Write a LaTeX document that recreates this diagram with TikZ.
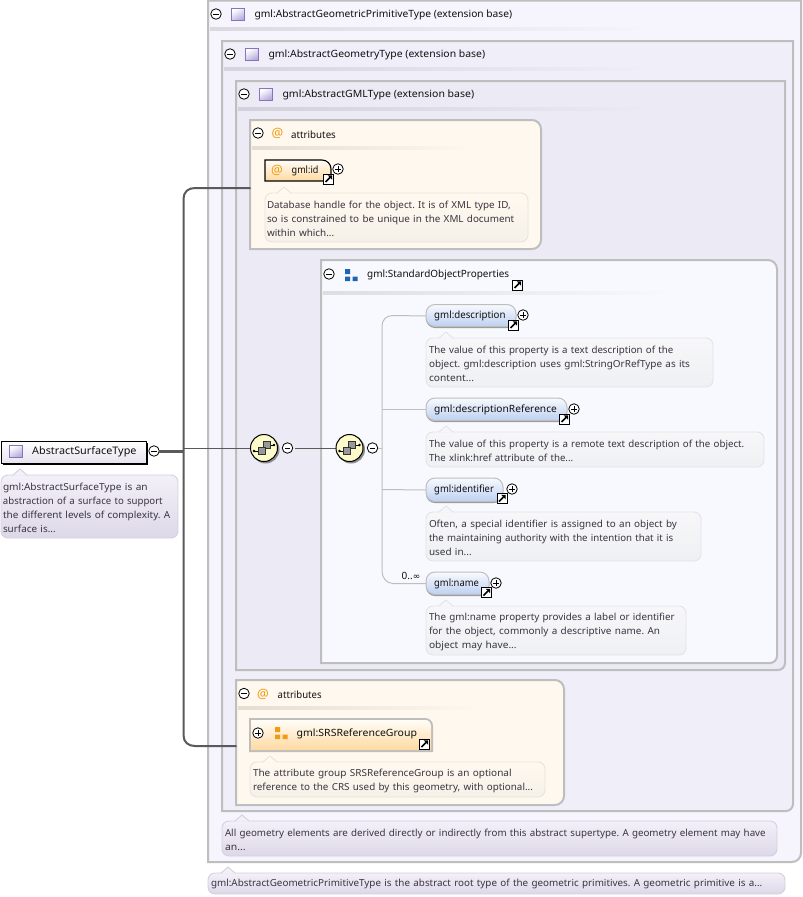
\documentclass[tikz,border=0pt]{standalone}
\usepackage{fontspec}
\usepackage{graphicx}
\setmainfont{Noto Sans}
\newfontfamily\symfont{DejaVu Sans}
\usetikzlibrary{shapes.geometric}
\frenchspacing
\definecolor{pborder}{HTML}{BEBEBE}
\definecolor{pA}{HTML}{F6F4FC}
\definecolor{pB}{HTML}{F0EEF8}
\definecolor{pC}{HTML}{ECEAF5}
\definecolor{pCream}{HTML}{FFF8EE}
\definecolor{pStd}{HTML}{F8F9FE}
\definecolor{conn}{HTML}{5A5A5A}
\definecolor{txt}{HTML}{101010}
\definecolor{doctxt}{HTML}{3A3440}
\definecolor{typeedge}{HTML}{8874BE}
\definecolor{typefill}{HTML}{B5A8DA}
\definecolor{atcol}{HTML}{F29A10}
\definecolor{compfill}{HTML}{FEFBCB}
\definecolor{elemtop}{HTML}{F8FAFE}
\definecolor{elembot}{HTML}{BDD0F1}
\definecolor{orangetop}{HTML}{FFFDF8}
\definecolor{orangebot}{HTML}{FFD9A0}
\definecolor{blueicon}{HTML}{1E64B4}
\definecolor{orangeicon}{HTML}{F29A10}
\definecolor{lavT}{HTML}{F3F0F8}
\definecolor{lavB}{HTML}{DDD8E8}
\definecolor{lavE}{HTML}{D5D0E0}
\definecolor{greyT}{HTML}{F7F7F9}
\definecolor{greyB}{HTML}{EFF0F3}
\definecolor{greyE}{HTML}{E3E4E8}
\definecolor{creamT}{HTML}{FFF9F0}
\definecolor{creamB}{HTML}{F6F1E8}
\definecolor{creamE}{HTML}{E9E4DA}
\tikzset{
  x=1pt,y=-1pt,
  panelbox/.style={draw=pborder,line width=2pt},
  blank/.style={inner sep=0pt,outer sep=0pt,anchor=north west},
  title/.style={anchor=west,inner sep=0pt,yshift=-1pt,text=txt,font=\fontsize{10}{12}\selectfont},
  expander/.style={circle,draw=black,fill=white,line width=.8pt,minimum size=10.5pt,inner sep=0pt,outer sep=0pt},
  shortcut/.style={rectangle,draw=black,fill=white,line width=1pt,minimum size=10pt,inner sep=0pt,outer sep=0pt},
  typeicon/.style={rectangle,draw=typeedge,line width=1.2pt,minimum size=12.5pt,inner sep=0pt,top color=white,bottom color=typefill,shading angle=30},
  atsign/.style={anchor=center,inner sep=0pt,text=atcol,font=\fontsize{13}{13}\selectfont},
  compositor/.style={circle,draw=black,fill=compfill,line width=1pt,minimum size=27pt,inner sep=0pt,outer sep=0pt},
  docbase/.style={rectangle,rounded corners=7pt,line width=.9pt,inner xsep=3pt,inner ysep=0pt,outer sep=0pt,anchor=north west,align=left,text=doctxt,
     font=\fontsize{9.7}{14}\selectfont},
  elem/.style={rectangle,rounded corners=9pt,draw=pborder,line width=1pt,top color=elemtop,bottom color=elembot,anchor=north west,inner sep=0pt,outer sep=0pt},
  connmain/.style={draw=conn,line width=2pt,line cap=round},
  connthin/.style={draw=conn,line width=1.9pt},
  conntree/.style={draw=pborder,line width=1pt},
}
% name x0 y0 x1 y1 rNE rSE fill
\newcommand\panelshape[8]{%
  \filldraw[panelbox,fill=#8] (#2,#3) -- ({#4-#6},#3) .. controls ({#4-.45*#6},#3) and (#4,{#3+.45*#6}) .. (#4,{#3+#6})
    -- (#4,{#5-#7}) .. controls (#4,{#5-.45*#7}) and ({#4-.45*#7},#5) .. ({#4-#7},#5) -- (#2,#5) -- cycle;
  \node[blank,minimum width={(#4-#2)*1pt},minimum height={(#5-#3)*1pt}] (#1) at (#2,#3) {};}
% fading title rule: x0 x1 y panelcolor
\newcommand\titlerule[4]{\shade[left color=black!11!#4,right color=#4] (#1,{#3-1.3}) rectangle (#2,{#3+1.3});}
\newcommand\minusbtn[3]{\node[expander] (#1) at (#2,#3) {};\draw[black,line width=.9pt] ({#2-2.7},#3) -- ({#2+2.7},#3);}
\newcommand\plusbtn[3]{\node[expander] (#1) at (#2,#3) {};\draw[black,line width=.9pt] ({#2-2.7},#3) -- ({#2+2.7},#3) ({#2},{#3-2.7}) -- ({#2},{#3+2.7});}
\newcommand\shortc[3]{\node[shortcut] (#1) at (#2,#3) {};
  \draw[black,line width=1.7pt] ({#2-3},{#3+3}) -- ({#2+1.5},{#3-1.5});
  \fill[black] ({#2+3.6},{#3-3.6}) -- ({#2-.8},{#3-3.6}) -- ({#2+3.6},{#3+.8}) -- cycle;}
\newcommand\blockicon[4]{\node[blank,minimum size=14pt] (#1) at ({#2-6},{#3-6}) {};
  \fill[#4] ({#2-6},{#3-6}) rectangle ({#2-1},{#3-1}) ({#2-6},{#3+1.5}) rectangle ({#2-1},{#3+6}) ({#2+1.5},{#3+1.5}) rectangle ({#2+6.5},{#3+6});}
\newcommand\compos[3]{\fill[black!45] ({#2+1.5},{#3+1.5}) circle[radius=14];
  \node[compositor] (#1) at (#2,#3) {};
  \draw[black,line width=1pt] ({#2-10},{#3+3}) -- ({#2-4},{#3+3}) ({#2+4},{#3-3}) -- ({#2+10},{#3-3});
  \fill[black] ({#2-10},{#3+3}) circle[radius=1.4] ({#2+10},{#3-3}) circle[radius=1.4];
  \filldraw[draw=black!80,fill=black!40,line width=.9pt] ({#2-1},{#3-7}) rectangle ({#2+6},{#3});
  \filldraw[draw=black!80,fill=black!40,line width=.9pt] ({#2-6},{#3-1}) rectangle ({#2+1},{#3+6});}
% doc: name x0 y0 x1 y1 ptr top bottom border; text in \docbody
\newcommand\docbub[9]{\node[docbase,draw=#9,top color=#7,bottom color=#8,minimum width={(#4-#2)*1pt},minimum height={(#5-#3)*1pt},text width={(#4-#2-6)*1pt}] (#1) at (#2,#3) {\strut\docbody};
  \fill[#7] ({#6-7},{#3+.6}) -- (#6,{#3-6}) -- ({#6+7},{#3+.6}) -- cycle;
  \draw[#9,line width=.9pt] ({#6-7},#3) -- (#6,{#3-6}) -- ({#6+7},#3);}
% a line of text set to the width it has in the picture
\newcommand\tl[2]{\resizebox{#1pt}{\height}{#2}}
\begin{document}
\begin{tikzpicture}
\useasboundingbox (0,0) rectangle (803,897);
\fill[white] (0,0) rectangle (803,897);
% panels
\panelshape{outer}{208}{.5}{801}{862}{0}{9}{pA}
\panelshape{geom}{222}{41}{793}{811}{0}{7}{pB}
\panelshape{gmlt}{236}{81}{785}{670}{0}{7}{pC}
\panelshape{attrs}{250}{120}{541}{249}{9}{9}{pCream}
\panelshape{std}{321}{260}{777}{663}{9}{7}{pStd}
\panelshape{attrb}{236}{680}{564}{805}{9}{9}{pCream}
\titlerule{210}{655}{29}{pA}
\titlerule{224}{653}{69}{pB}
\titlerule{238}{650}{109}{pC}
\titlerule{252}{470}{148}{pCream}
\titlerule{323}{670}{293}{pStd}
\titlerule{238}{480}{708}{pCream}
% main node
\fill[black] (3,443) rectangle (148,464.5);
\node[blank,rectangle,draw=black,line width=1pt,top color=white,bottom color=lavB!70,minimum width=145pt,minimum height=22pt] (main) at (1,441) {};
\node[typeicon] (mainicon) at (16,451.5) {};
\node[title] (maintext) at (32,450.5) {\tl{104.3}{\fontsize{10.4}{12}\selectfont AbstractSurfaceType}};
% connectors
\minusbtn{mainbtn}{154}{451}
\coordinate (junc) at (183.5,451);
\coordinate (junb) at (183.5,448.5);
\coordinate (attrsin) at (attrs.west |- 0,188);
\coordinate (attrbin) at (attrb.west |- 0,746);
\draw[conn,line width=3pt] (mainbtn) -- (junc);
\draw[connmain] (attrsin) -- (195,188) .. controls (188,188) and (183.5,192) .. (183.5,199) -- (183.5,735) .. controls (183.5,742) and (188,746) .. (195,746) -- (attrbin);
\draw[connthin] (junb) -- (250,448.5);
\draw[connthin] (295,448.5) -- (336,448.5);
\compos{compa}{264}{448}
\minusbtn{compabtn}{287.5}{448}
\compos{compb}{349.5}{448}
\minusbtn{compbbtn}{372.5}{448}
% tree
\node[blank,minimum width=90pt,minimum height=23pt] (elD) at (426,304.5) {};
\node[blank,minimum width=141pt,minimum height=23pt] (elR) at (426,398) {};
\node[blank,minimum width=77pt,minimum height=24pt] (elI) at (426,478) {};
\node[blank,minimum width=63pt,minimum height=23pt] (elN) at (426,572) {};
\draw[conntree] (compbbtn) -- (382,448);
\draw[conntree] (elD.west) -- (393,315.5) .. controls (386,315.5) and (382,320) .. (382,326) -- (382,571) .. controls (382,577) and (386,583.5) .. (393,583.5) -- (elN.west);
\draw[conntree] (382,409.5) -- (elR.west);
\draw[conntree] (382,489.5) -- (elI.west);
% attributes content
\minusbtn{attrsbtn}{258}{133}
\node[atsign] (attrsat) at (277.5,133.5) {@};
\node[title] (attrst) at (291,133.5) {\tl{44.7}{attributes}};
\shade[top color=orangetop,bottom color=orangebot] (265,160) -- (322,160) .. controls (327,160) and (331,164) .. (331,169) -- (331,181) -- (265,181) -- cycle;
\draw[black,line width=1.1pt] (265,160) -- (322,160) .. controls (327,160) and (331,164) .. (331,169) -- (331,181) -- (265,181) -- cycle;
\node[blank,minimum width=66pt,minimum height=21pt] (idnode) at (265,160) {};
\node[atsign] (idat) at (277,170) {@};
\node[title] (idt) at (291.5,169.5) {\tl{26.7}{gml:id}};
\shortc{idsc}{328.5}{179}
\plusbtn{idbtn}{338}{169}
\def\docbody{\hspace*{-1pt}\tl{243.7}{Database handle for the object. It is of XML type ID,}\\\hspace*{-1pt}\tl{247.3}{so is constrained to be unique in the XML document}\\\hspace*{-1pt}\tl{67.3}{within which...}}
\docbub{iddoc}{265}{193}{528}{242}{284}{creamT}{creamB}{creamE}{}
% std props
\minusbtn{stdbtn}{329}{274}
\blockicon{stdicon}{351}{275}{blueicon}
\node[title] (stdt) at (367,273.5) {\tl{142}{gml:StandardObjectProperties}};
\shortc{stdsc}{517.5}{285}
% elements
\newcommand\element[7]{%
  \fill[black!40,rounded corners=9pt] (#2,{#3+2}) rectangle (#4,{#5+1.5});
  \node[elem,minimum width={(#4-#2)*1pt},minimum height={(#5-#3)*1pt}] (#1x) at (#2,#3) {};
  \node[title] (#1t) at ({#2+8},{(#3+#5)/2-.7}) {\tl{#7}{#6}};}
\element{D}{426}{304.5}{516}{326.5}{gml:description}{71.3}
\shortc{Dsc}{513.5}{325}
\plusbtn{Dbtn}{523}{315}
\element{R}{426}{398}{567}{420.5}{gml:descriptionReference}{122.7}
\shortc{Rsc}{564.5}{419}
\plusbtn{Rbtn}{574}{409}
\element{I}{426}{478}{503}{501.5}{gml:identifier}{59.7}
\shortc{Isc}{502}{498.5}
\plusbtn{Ibtn}{512}{489}
\element{N}{426}{572}{489}{594.5}{gml:name}{44.7}
\shortc{Nsc}{486.5}{592.5}
\plusbtn{Nbtn}{496}{583}
\node[anchor=east,inner sep=0pt,text=txt,font=\fontsize{10}{12}\selectfont] (occ) at (420.5,575.5) {0..{\symfont\fontsize{9}{12}\selectfont ∞}};
\def\docbody{\tl{244.3}{The value of this property is a text description of the}\\\tl{261}{object. gml:description uses gml:StringOrRefType as its}\\\tl{45}{content...}}
\docbub{Ddoc}{426}{338}{713}{387}{446}{greyT}{greyB}{greyE}{}
\def\docbody{\tl{315.3}{The value of this property is a remote text description of the object.}\\\tl{144.3}{The xlink:href attribute of the...}}
\docbub{Rdoc}{426}{432}{764}{467}{446}{greyT}{greyB}{greyE}{}
\def\docbody{\tl{248}{Often, a special identifier is assigned to an object by}\\\tl{244.3}{the maintaining authority with the intention that it is}\\\tl{42.7}{used in...}}
\docbub{Idoc}{426}{512}{701}{561}{446}{greyT}{greyB}{greyE}{}
\def\docbody{\tl{245.7}{The gml:name property provides a label or identifier}\\\tl{231}{for the object, commonly a descriptive name. An}\\\tl{87.7}{object may have...}}
\docbub{Ndoc}{426}{606}{686}{655}{446}{greyT}{greyB}{greyE}{}
% headings
\minusbtn{outerbtn}{216}{14}
\node[typeicon] (outericon) at (238,14.5) {};
\node[title] (outert) at (254.3,13.5) {\tl{257.7}{gml:AbstractGeometricPrimitiveType (extension base)}};
\minusbtn{geombtn}{230}{54}
\node[typeicon] (geomicon) at (252,54.5) {};
\node[title] (geomt) at (268.3,53.5) {\tl{216.7}{gml:AbstractGeometryType (extension base)}};
\minusbtn{gmlbtn}{244}{94}
\node[typeicon] (gmlicon) at (266,94.5) {};
\node[title] (gmlt2) at (282.3,93.5) {\tl{191.7}{gml:AbstractGMLType (extension base)}};
% attr group
\minusbtn{attrbbtn}{244}{693.5}
\node[atsign] (attrbat) at (263,694) {@};
\node[title] (attrbt) at (277.5,693.5) {\tl{44}{attributes}};
\filldraw[panelbox,fill=orangebot!50] (250,719) -- (425,719) .. controls (429,719) and (432,722) .. (432,726) -- (432,751) -- (250,751) -- cycle;
\shade[top color=orangetop,bottom color=orangebot] (251,720) -- (425,720) .. controls (429,720) and (431,723) .. (431,726) -- (431,750) -- (251,750) -- cycle;
\node[blank,minimum width=182pt,minimum height=32pt] (srs) at (250,719) {};
\plusbtn{srsbtn}{258}{733}
\blockicon{srsicon}{281}{733}{orangeicon}
\node[title] (srst) at (296.5,732.5) {\tl{120.3}{gml:SRSReferenceGroup}};
\shortc{srssc}{424.5}{744}
\def\docbody{\tl{258.6}{The attribute group SRSReferenceGroup is an optional}\\\tl{280}{reference to the CRS used by this geometry, with optional...}}
\docbub{srsdoc}{250}{762}{545}{797}{270}{creamT}{creamB}{creamE}{}
\def\docbody{\tl{540.7}{All geometry elements are derived directly or indirectly from this abstract supertype. A geometry element may have}\\\tl{20.7}{an...}}
\docbub{geomdoc}{222}{821}{777}{856}{242}{lavT}{lavB}{lavE}{}
\def\docbody{\tl{551.3}{gml:AbstractGeometricPrimitiveType is the abstract root type of the geometric primitives. A geometric primitive is a...}}
\docbub{outerdoc}{208}{873}{785}{894}{228}{lavT}{lavB}{lavE}{}
\def\docbody{\hspace*{-1pt}\tl{144.7}{gml:AbstractSurfaceType is an}\\\hspace*{-1pt}\tl{159.7}{abstraction of a surface to support}\\\hspace*{-1pt}\tl{167.3}{the different levels of complexity. A}\\\hspace*{-1pt}\tl{52.7}{surface is...}}
\docbub{maindoc}{1}{475}{178}{538}{20}{lavT}{lavB}{lavE}{}
\end{tikzpicture}
\end{document}
